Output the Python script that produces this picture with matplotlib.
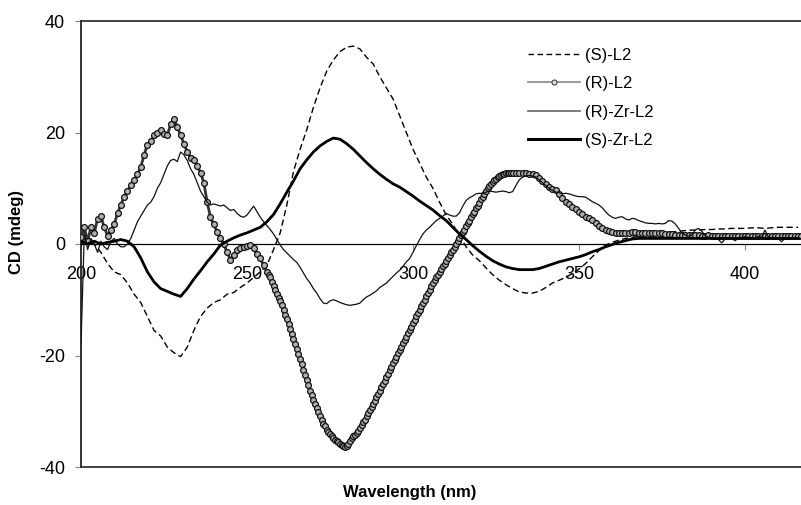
import numpy as np
import matplotlib
matplotlib.use("Agg")
import matplotlib.pyplot as plt
from matplotlib.lines import Line2D

plt.rcParams['font.family'] = ['Liberation Sans', 'DejaVu Sans']
plt.rcParams['axes.unicode_minus'] = False

# ---------------- data ----------------
series_labels = ["(S)-L2", "(R)-L2", "(R)-Zr-L2", "(S)-Zr-L2"]
x_ticks = [200, 250, 300, 350, 400]
y_ticks = [-40, -20, 0, 20, 40]

# (S)-L2, dashed, every 2 nm from 200 to 416
wl_s_l2 = np.arange(200, 417, 2)
s_l2 = [0.0, 0.0, 0.0, -1.5, -3.5, -5.0, -5.5, -7.0, -9.0, -10.5,
        -13.0, -15.5, -16.5, -18.5, -19.5, -20.2, -18.5, -15.5, -13.0, -11.5,
        -10.5, -10.0, -9.0, -8.7, -7.8, -7.0, -6.0, -5.0, -3.8, -1.0,
        2.0, 7.0, 13.0, 17.0, 20.5, 24.5, 28.0, 31.0, 33.0, 34.5,
        35.3, 35.5, 35.0, 33.5, 32.3, 30.0, 28.0, 26.0, 23.0, 20.0,
        17.0, 14.5, 12.0, 10.0, 7.5, 5.2, 3.5, 1.5, -0.5, -2.0,
        -3.0, -4.3, -5.5, -6.5, -7.3, -8.0, -8.6, -8.8, -8.8, -8.5,
        -7.8, -7.0, -6.5, -6.0, -5.3, -4.5, -3.5, -2.3, -1.2, -0.2,
        0.3, 0.7, 1.0, 1.2, 1.4, 1.6, 1.8, 1.9, 2.0, 2.1,
        2.3, 2.4, 2.5, 2.5, 2.6, 2.6, 2.7, 2.7, 2.8, 2.8,
        2.8, 2.9, 2.9, 2.8, 2.9, 3.0, 3.0, 3.0, 3.0]

# (R)-L2, circles: 1 nm (200-255), 0.5 nm (256-329.5), 1 nm (330-417)
wl_r_l2_a = np.arange(200, 256, 1.0)
r_l2_a = [1.3, 3.0, 0.5, 3.0, 2.0, 4.5, 5.0, 3.0, 1.5, 2.5,
          3.5, 5.5, 7.0, 8.5, 9.5, 10.5, 11.5, 12.5, 13.8, 16.0,
          17.8, 18.5, 19.5, 20.0, 20.5, 19.8, 19.5, 21.5, 22.5, 21.0,
          19.5, 18.0, 16.5, 15.5, 15.0, 14.0, 12.8, 11.0, 7.5, 4.8,
          3.5, 2.2, 1.0, 0.0, -1.5, -2.8, -2.0, -1.0, -0.7, -0.5,
          -0.3, -0.2, -0.8, -1.8, -2.6, -3.8]
wl_r_l2_b = np.arange(256, 330, 0.5)
r_l2_b = [-5.0, -5.5, -6.0, -6.8, -7.5, -8.3, -9.0, -9.6, -10.2, -11.0,
          -11.8, -12.7, -13.5, -14.4, -15.3, -16.2, -17.1, -18.0, -18.9, -19.8,
          -20.7, -21.6, -22.6, -23.5, -24.4, -25.3, -26.3, -27.1, -27.9, -28.7,
          -29.5, -30.2, -30.9, -31.6, -32.2, -32.7, -33.3, -33.7, -34.1, -34.5,
          -34.8, -35.2, -35.4, -35.6, -35.8, -36.0, -36.2, -36.4, -36.2, -35.8,
          -35.3, -34.8, -34.5, -34.2, -33.9, -33.5, -33.0, -32.5, -32.0, -31.5,
          -30.9, -30.4, -29.8, -29.2, -28.7, -28.1, -27.5, -26.9, -26.3, -25.7,
          -25.1, -24.5, -23.9, -23.3, -22.6, -22.0, -21.4, -20.8, -20.2, -19.6,
          -19.0, -18.4, -17.8, -17.2, -16.6, -16.0, -15.4, -14.8, -14.2, -13.6,
          -13.0, -12.4, -11.8, -11.2, -10.6, -10.0, -9.4, -8.8, -8.2, -7.6,
          -7.0, -6.5, -6.0, -5.5, -5.0, -4.5, -4.0, -3.5, -3.0, -2.5,
          -2.0, -1.5, -1.0, -0.5, 0.0, 0.5, 1.0, 1.6, 2.1, 2.6,
          3.2, 3.7, 4.2, 4.8, 5.3, 5.8, 6.4, 6.9, 7.4, 8.0,
          8.5, 9.0, 9.5, 10.0, 10.4, 10.8, 11.1, 11.4, 11.7, 12.0,
          12.2, 12.4, 12.5, 12.6, 12.7, 12.7, 12.8, 12.7]
wl_r_l2_c = np.arange(330, 418, 1.0)
r_l2_c = [12.7, 12.7, 12.8, 12.7, 12.7, 12.6, 12.6, 12.3, 11.8, 11.3,
          10.8, 10.3, 9.9, 9.6, 9.0, 8.3, 7.6, 7.1, 6.6, 6.2,
          5.8, 5.3, 4.9, 4.6, 4.3, 3.8, 3.3, 2.9, 2.6, 2.3,
          2.1, 2.0, 1.9, 2.0, 2.0, 2.0, 2.1, 2.1, 2.0, 2.0,
          2.0, 2.0, 1.9, 1.9, 1.9, 1.9, 1.8, 1.8, 1.8, 1.7,
          1.7, 1.7, 1.6, 1.6, 1.6, 1.6, 1.6, 1.5, 1.5, 1.6,
          1.5, 1.5, 1.5, 1.5, 1.4, 1.5, 1.5, 1.4, 1.5, 1.5,
          1.5, 1.4, 1.4, 1.5, 1.5, 1.4, 1.4, 1.5, 1.5, 1.4,
          1.5, 1.5, 1.4, 1.5, 1.5, 1.5, 1.5, 1.5]

# (R)-Zr-L2, thin line, every 1 nm from 200 to 417
wl_r_zr = np.arange(200, 418, 1.0)
r_zr = [-18.0, 2.0, -1.0, 1.0, 0.0, -1.5, 0.5, -0.5, -1.0, 0.5,
        1.0, 0.0, -0.5, -0.5, 0.0, 1.0, 2.5, 4.0, 5.0, 6.0,
        7.0, 7.5, 8.5, 10.0, 11.0, 12.5, 14.0, 15.0, 15.2, 14.8,
        16.5, 16.0, 15.0, 13.5, 12.5, 11.0, 9.5, 8.5, 7.5, 7.0,
        7.2, 7.0, 6.8, 7.0, 6.5, 6.0, 6.2, 5.5, 5.0, 4.8,
        5.2, 6.0, 6.8, 5.8, 4.8, 4.0, 3.3, 2.6, 1.8, 0.8,
        -0.2, -1.0, -1.6, -2.2, -2.8, -3.3, -4.2, -5.2, -6.2, -7.0,
        -8.0, -8.8, -9.8, -10.6, -10.7, -10.2, -10.0, -10.2, -10.5, -10.7,
        -10.9, -11.0, -10.9, -10.8, -10.6, -10.0, -9.5, -9.2, -8.8, -8.4,
        -7.8, -7.4, -7.0, -6.4, -5.8, -5.2, -4.7, -4.0, -3.2, -2.6,
        -1.5, -0.3, 0.8, 1.8, 2.5, 3.0, 3.6, 4.2, 4.6, 5.0,
        5.5, 5.2, 5.0, 5.0, 5.6, 6.8, 7.8, 8.3, 8.6, 9.0,
        9.1, 9.0, 9.3, 9.5, 9.4, 9.3, 9.4, 9.5, 9.4, 9.2,
        9.4, 10.5, 11.5, 12.0, 12.2, 12.3, 12.2, 12.0, 11.5, 11.0,
        10.5, 10.0, 9.6, 9.3, 9.2, 9.0, 9.1, 9.0, 8.8, 8.6,
        8.5, 8.5, 8.4, 8.0, 7.6, 7.3, 7.0, 6.5, 5.8, 5.2,
        4.8, 4.6, 4.8, 4.9, 4.5, 4.3, 4.6, 4.5, 4.2, 4.0,
        3.8, 3.7, 3.7, 3.6, 3.7, 3.6, 3.7, 4.2, 4.1, 3.6,
        2.8, 2.0, 1.6, 1.4, 1.6, 2.5, 2.8, 2.3, 1.5, 1.2,
        1.0, 1.0, 0.8, 0.2, 0.9, 1.0, 1.0, 0.6, 1.0, 1.2,
        1.3, 1.2, 1.0, 1.1, 1.4, 1.2, 2.5, 1.3, 1.0, 1.1,
        1.0, 0.4, 1.0, 1.2, 1.1, 1.0, 1.0, 1.0]

# (S)-Zr-L2, thick line, every 2 nm from 200 to 416
wl_s_zr = np.arange(200, 417, 2)
s_zr = [0.5, 0.0, 0.5, 0.0, 0.3, 0.5, 0.8, 0.5, -0.5, -2.5,
        -5.0, -6.8, -8.0, -8.5, -9.0, -9.4, -8.0, -6.3, -4.8, -3.2,
        -1.8, -0.2, 0.5, 1.1, 1.6, 2.0, 2.5, 3.0, 4.0, 5.3,
        7.2, 9.3, 11.3, 13.5, 15.1, 16.5, 17.6, 18.4, 19.0, 18.8,
        18.0, 17.0, 15.8, 14.6, 13.5, 12.5, 11.6, 10.8, 10.2, 9.4,
        8.6, 7.7, 6.9, 6.1, 5.1, 4.2, 3.0, 1.8, 0.8, -0.3,
        -1.3, -2.2, -3.0, -3.6, -4.1, -4.4, -4.6, -4.6, -4.6, -4.4,
        -4.0, -3.6, -3.2, -2.9, -2.6, -2.3, -1.9, -1.4, -1.0, -0.5,
        -0.1, 0.3, 0.6, 0.9, 1.0, 1.0, 1.0, 1.0, 1.0, 1.0,
        1.0, 1.0, 1.0, 1.0, 1.0, 1.0, 1.0, 1.0, 1.0, 1.0,
        1.0, 1.0, 1.0, 1.0, 1.0, 1.0, 1.0, 1.0, 1.0]

assert len(wl_s_l2) == len(s_l2), (len(wl_s_l2), len(s_l2))
assert len(wl_r_l2_a) == len(r_l2_a), (len(wl_r_l2_a), len(r_l2_a))
assert len(wl_r_l2_b) == len(r_l2_b), (len(wl_r_l2_b), len(r_l2_b))
assert len(wl_r_l2_c) == len(r_l2_c), (len(wl_r_l2_c), len(r_l2_c))
assert len(wl_r_zr) == len(r_zr), (len(wl_r_zr), len(r_zr))
assert len(wl_s_zr) == len(s_zr), (len(wl_s_zr), len(s_zr))

wl_r_l2 = np.concatenate([wl_r_l2_a, wl_r_l2_b, wl_r_l2_c])
r_l2 = np.concatenate([r_l2_a, r_l2_b, r_l2_c])

# ---------------- figure ----------------
W, H = 801, 505
fig = plt.figure(figsize=(W / 100, H / 100), dpi=100)
ax = fig.add_axes([81 / W, 38 / H, 720 / W, 446 / H])

ax.plot(wl_s_l2, s_l2, color='black', lw=1.0, ls=(0, (4.5, 2.5)), zorder=3)
ax.plot(wl_r_l2, r_l2, color='#333333', lw=2.0, marker='o', ms=4.2,
        mfc='#b0b0b0', mec='#111111', mew=0.9, zorder=4)
ax.plot(wl_r_zr, r_zr, color='#111111', lw=0.9, zorder=5)
ax.plot(wl_s_zr, s_zr, color='black', lw=2.0, zorder=6)

ax.set_xlim(200, 200 + 720 / 3.32)
ax.set_ylim(-40, 40)
ax.set_xticks(x_ticks)
ax.set_yticks(y_ticks)

ax.spines['bottom'].set_position(('data', 0))
ax.spines['bottom'].set_linewidth(0.9)
ax.spines['bottom'].set_color('black')
ax.spines['right'].set_visible(False)
ax.spines['top'].set_linewidth(1.3)
ax.spines['top'].set_color('#333333')
ax.spines['left'].set_linewidth(1.3)
ax.spines['left'].set_color('#222222')
ax.axhline(-40, color='#333333', lw=1.3, clip_on=False, zorder=1)

ax.tick_params(axis='x', direction='out', length=4, width=0.8, color='#888888',
               pad=12, labelsize=13)
ax.tick_params(axis='y', direction='out', length=4.5, width=0.8, color='#888888',
               pad=7, labelsize=13)

fig.text(410 / W, 1 - 493 / H, "Wavelength (nm)", ha='center', va='center',
         fontsize=12, fontweight='bold')
fig.text(17 / W, 1 - 232 / H, "CD (mdeg)", ha='center', va='center',
         rotation=90, fontsize=12, fontweight='bold')

handles = [
    Line2D([], [], color='black', lw=1.0, ls=(0, (4, 2.5))),
    Line2D([], [], color='#888888', lw=1.2, marker='o', ms=3.6,
           mfc='#dddddd', mec='#444444', mew=0.8),
    Line2D([], [], color='#666666', lw=1.2),
    Line2D([], [], color='black', lw=2.2),
]
ax.legend(handles, series_labels, loc='upper left', frameon=False,
          bbox_to_anchor=(528 / W, 1 - 48 / H), bbox_transform=fig.transFigure,
          fontsize=12, handlelength=3.1, handletextpad=0.35, labelspacing=0.8,
          borderpad=0, borderaxespad=0, numpoints=1)

fig.savefig("out.png", dpi=100)
